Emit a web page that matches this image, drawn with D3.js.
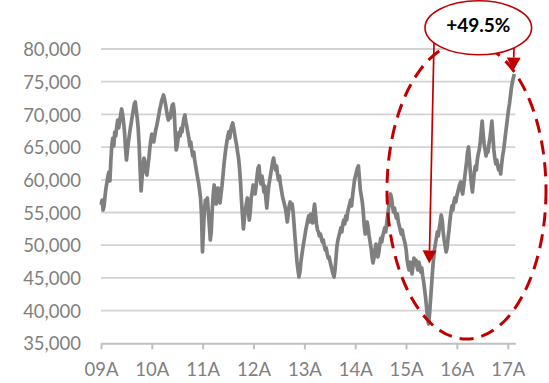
<!DOCTYPE html>
<html>
<head>
<meta charset="utf-8">
<script src="https://cdn.jsdelivr.net/npm/d3@7"></script>
<style>
  html, body { margin: 0; padding: 0; background: #ffffff; }
  svg { display: block; font-family: Lato, "Open Sans", sans-serif; }
</style>
</head>
<body>
<svg id="chart" width="549" height="383"></svg>
<script>
// Weekly index closes, first observation on 2 Jan 2009
const seriesStart = new Date(2009, 0, 2);
const weeklyClose = [
  56150,56910,55380,56000,57520,58750,59660,60580,61190,59820,
  63030,65320,66390,65170,67310,66700,68070,69140,67920,68840,
  69910,70830,70060,68840,67310,64860,63030,64560,65780,66850,
  67920,68840,69760,70670,71590,71900,70670,69450,67920,65320,
  61500,58290,60280,62260,63330,62570,61190,60730,62110,63330,
  64860,66090,67000,66550,65780,66700,67620,68230,68990,69760,
  70670,71290,72050,72510,72970,72360,71590,70670,69760,69140,
  70060,69450,70670,71440,71590,70370,67310,64560,65170,66390,
  67310,66700,67920,67310,68530,69450,69910,68840,68070,67160,
  66390,65170,65780,64560,63640,64250,63030,62110,61190,60280,
  59510,58440,57220,54620,48960,52330,55380,56910,56000,57220,
  55080,53090,50800,52020,55380,57680,59210,58140,56300,57520,
  58750,57220,56450,57830,59050,60580,62260,63640,64860,65780,
  66700,67310,66390,67620,68230,68690,67920,67000,66090,65320,
  64250,63330,61810,59660,56910,54620,52480,54160,55380,56300,
  57220,55380,53850,55080,57220,58140,59210,58750,57830,59050,
  60580,61810,62110,60280,59360,60580,59660,58140,59050,57220,
  55690,57520,59050,59970,60890,61810,62720,63330,62420,61500,
  62110,60890,59970,60580,59360,58440,57520,56910,56300,55690,
  54770,53550,54770,56000,56610,55690,56300,55080,53090,51100,
  49270,47430,46210,45140,45900,47430,48500,49570,50490,51410,
  52330,53090,53850,54470,53550,54770,54160,53400,55080,56300,
  54770,53240,52330,52020,51410,51710,51100,50490,50800,49880,
  49270,49570,48660,48040,48200,47430,46820,46210,45600,45140,
  46210,48040,49880,50800,51410,52020,52630,52020,53240,53850,
  53240,54470,53850,55080,55690,56300,56910,56000,57520,58750,
  59970,60580,61190,61810,62110,60280,58440,57520,56610,55080,
  52940,51710,52330,53550,52630,51410,50490,49570,48200,47280,
  48040,49270,50180,49270,48200,48960,50180,51100,50490,51410,
  52020,52630,52020,53240,54470,55690,56910,57830,57220,56000,
  55080,55690,54770,54160,54770,53550,52940,52330,51710,52330,
  51410,50800,50180,49270,47740,46820,46210,47430,46520,45600,
  46820,48040,47130,47740,46820,46210,47430,46820,45900,46520,
  45290,44370,43150,41930,40400,38870,37950,39480,41620,43760,
  45900,47740,49270,50180,51100,52020,51410,52630,53550,54620,
  53850,52020,50800,49880,48960,49570,51100,52330,53850,55080,
  56000,55380,56610,57220,56610,57520,58140,58750,59360,59660,
  58440,57830,59050,60280,61500,62720,64250,65020,63030,60890,
  59360,58140,59660,61190,62110,61500,63030,63950,64560,65780,
  67310,68990,67000,65470,64560,63640,64560,64250,65470,66390,
  67620,68990,66700,64560,63330,62420,63030,62110,61500,62110,
  60890,62420,63640,64560,65780,67000,68230,69450,70670,71590,
  72810,74040,74950,75570,76180
];

// Axis labels
const yearTicks = [2009, 2010, 2011, 2012, 2013, 2014, 2015, 2016, 2017];
const yearLabels = ["09A", "10A", "11A", "12A", "13A", "14A", "15A", "16A", "17A"];
const valueTicks = [35000, 40000, 45000, 50000, 55000, 60000, 65000, 70000, 75000, 80000];

// Annotation: rally from the mid-2015 level to the latest close
const changeLabel = "+49.5%";
const arrowTargets = [
  { date: new Date(2015, 5, 17), value: 47200 },
  { date: new Date(2017, 1, 10), value: 76700 }
];

const red = "#c00000";
const grey = "#7f7f7f";

const data = weeklyClose.map((v, i) => ({
  date: new Date(seriesStart.getTime() + i * 7 * 864e5),
  value: v
}));

const svg = d3.select("#chart");

const x = d3.scaleTime()
  .domain([new Date(2009, 0, 1), new Date(2017, 1, 24)])
  .range([101, 515.3]);

const y = d3.scaleLinear()
  .domain([35000, 80000])
  .range([343.3, 49]);

// Horizontal gridlines
svg.append("g")
  .selectAll("line")
  .data(valueTicks.slice(1))
  .join("line")
  .attr("x1", x.range()[0])
  .attr("x2", x.range()[1])
  .attr("y1", d => y(d))
  .attr("y2", d => y(d))
  .attr("stroke", "#d3d3d3")
  .attr("stroke-width", 1.8);

// Value axis labels
const yAxis = d3.axisLeft(y)
  .tickValues(valueTicks)
  .tickFormat(d3.format(","))
  .tickSize(0)
  .tickPadding(20);

const gy = svg.append("g")
  .attr("transform", `translate(${x.range()[0]},0)`)
  .call(yAxis);
gy.select(".domain").remove();
gy.selectAll("text")
  .attr("fill", grey)
  .attr("dy", "0.36em")
  .style("font-size", "18.5px")
  .style("font-family", "Lato, 'Open Sans', sans-serif");

// Time axis
const xAxis = d3.axisBottom(x)
  .tickValues(yearTicks.map(yr => new Date(yr, 0, 1)))
  .tickFormat((d, i) => yearLabels[i])
  .tickSize(6)
  .tickSizeOuter(0)
  .tickPadding(14);

const gx = svg.append("g")
  .attr("transform", `translate(0,${y(35000)})`)
  .call(xAxis);
gx.select(".domain")
  .attr("stroke", "#bfbfbf")
  .attr("stroke-width", 2);
gx.selectAll(".tick line")
  .attr("stroke", "#bfbfbf")
  .attr("stroke-width", 2);
gx.selectAll("text")
  .attr("fill", grey)
  .style("font-size", "18.5px")
  .style("font-family", "Lato, 'Open Sans', sans-serif");

// Index line
const line = d3.line()
  .x(d => x(d.date))
  .y(d => y(d.value));

svg.append("path")
  .datum(data)
  .attr("d", line)
  .attr("fill", "none")
  .attr("stroke", grey)
  .attr("stroke-width", 3.7)
  .attr("stroke-linejoin", "round");

// Dashed ellipse around the 2015-2017 move
svg.append("ellipse")
  .attr("cx", 466.5)
  .attr("cy", 190.5)
  .attr("rx", 79.5)
  .attr("ry", 148.5)
  .attr("fill", "none")
  .attr("stroke", red)
  .attr("stroke-width", 3)
  .attr("stroke-dasharray", "14,8");

// Callout bubble
const bubble = { cx: 478.3, cy: 27.8, rx: 53.3, ry: 27 };
const startOffsets = [-44.3, 35.7];

const headLen = 13, headHalf = 7;
arrowTargets.forEach((t, i) => {
  const tx = x(t.date), ty = y(t.value);
  const sx = bubble.cx + startOffsets[i];
  const k = (sx - bubble.cx) / bubble.rx;
  const sy = bubble.cy + bubble.ry * Math.sqrt(1 - k * k);
  const ang = Math.atan2(ty - sy, tx - sx);
  const bx = tx - headLen * Math.cos(ang), by = ty - headLen * Math.sin(ang);
  svg.append("line")
    .attr("x1", sx).attr("y1", sy)
    .attr("x2", bx).attr("y2", by)
    .attr("stroke", red)
    .attr("stroke-width", 1.7);
  const px = -Math.sin(ang) * headHalf, py = Math.cos(ang) * headHalf;
  svg.append("path")
    .attr("d", `M${tx},${ty}L${bx + px},${by + py}L${bx - px},${by - py}Z`)
    .attr("fill", red);
});

svg.append("ellipse")
  .attr("cx", bubble.cx)
  .attr("cy", bubble.cy)
  .attr("rx", bubble.rx)
  .attr("ry", bubble.ry)
  .attr("fill", "#ffffff")
  .attr("stroke", red)
  .attr("stroke-width", 1.6);

svg.append("text")
  .attr("x", bubble.cx)
  .attr("y", 32.3)
  .attr("text-anchor", "middle")
  .attr("fill", "#000000")
  .style("font-size", "19px")
  .style("font-weight", "bold")
  .style("font-family", "Lato, 'Open Sans', sans-serif")
  .text(changeLabel);
</script>
</body>
</html>
